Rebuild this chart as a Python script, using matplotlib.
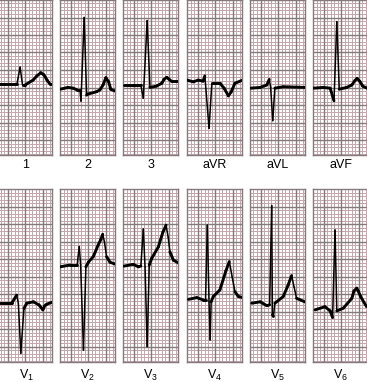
import numpy as np
import matplotlib
matplotlib.use('Agg')
from matplotlib import pyplot as plt
from matplotlib.collections import LineCollection

plt.rcParams['font.family'] = ['Liberation Sans', 'DejaVu Sans']
plt.rcParams['mathtext.fontset'] = 'custom'
plt.rcParams['mathtext.rm'] = 'Liberation Sans'
plt.rcParams['mathtext.it'] = 'Liberation Sans'

# lead names
top_labels = ['1', '2', '3', 'aVR', 'aVL', 'aVF']
bottom_labels = [r'V$_1$', r'V$_2$', r'V$_3$', r'V$_4$', r'V$_5$', r'V$_6$']

# traces, time in mm from panel left, amplitude in mm from panel bottom
lead_1_t = [0.0, 5.7, 6.6, 7.3, 8.0, 10.3, 11.4, 12.5, 13.4, 14.3, 15.1, 15.7]
lead_1_v = [20.3, 20.3, 25.1, 20.0, 20.0, 21.4, 22.6, 23.5, 22.9, 21.4, 20.3, 20.3]

lead_2_t = [0.0, 2.3, 3.7, 4.9, 5.7, 6.0, 6.9, 7.6, 7.9, 10.5, 11.4, 12.3, 13.1, 13.9, 14.5, 15.7]
lead_2_v = [18.8, 19.3, 19.1, 18.6, 18.6, 15.4, 39.3, 17.1, 17.4, 18.1, 18.6, 20.0, 22.1, 20.9, 18.8, 18.3]

lead_3_t = [0.3, 2.9, 5.1, 5.8, 6.9, 7.7, 9.6, 11.1, 11.7, 12.5, 13.1, 13.9, 15.9]
lead_3_v = [20.0, 20.0, 20.0, 16.2, 38.4, 19.3, 19.7, 20.5, 21.6, 22.2, 21.7, 21.0, 21.0]

avr_t = [0.0, 1.8, 3.2, 4.6, 5.1, 6.3, 7.1, 9.4, 10.6, 11.8, 12.6, 13.7, 15.9]
avr_v = [21.4, 20.9, 21.4, 21.1, 22.6, 7.6, 20.5, 20.5, 19.1, 16.9, 18.0, 20.5, 21.4]

avl_t = [0.2, 2.9, 4.8, 5.5, 5.9, 6.5, 7.1, 9.5, 15.9]
avl_v = [19.1, 19.3, 20.0, 21.6, 19.3, 9.8, 19.1, 19.5, 19.3]

avf_t = [0.1, 2.9, 4.9, 6.0, 6.8, 7.5, 9.6, 11.1, 12.0, 12.6, 13.4, 14.2, 15.4]
avf_v = [19.1, 19.3, 19.1, 15.5, 38.1, 18.8, 19.3, 20.0, 21.3, 21.9, 21.0, 19.7, 19.1]

v1_t = [0.9, 4.2, 5.6, 6.1, 6.8, 7.7, 8.5, 10.4, 12.0, 13.1, 13.6, 14.2, 15.8]
v1_v = [16.8, 16.8, 19.1, 16.8, 2.5, 15.3, 16.8, 17.2, 16.3, 14.9, 16.0, 16.5, 17.1]

v2_t = [0.0, 2.9, 4.9, 5.5, 5.9, 6.7, 7.4, 8.1, 9.5, 10.9, 11.7, 12.2, 12.7, 13.3, 14.3, 16.0]
v2_v = [27.2, 27.7, 27.7, 33.0, 27.7, 3.4, 27.2, 28.5, 30.1, 33.4, 35.1, 36.5, 34.3, 30.1, 28.5, 27.9]

v3_t = [0.3, 2.9, 4.4, 5.1, 5.8, 6.3, 6.9, 7.5, 8.2, 10.1, 11.4, 12.3, 12.9, 13.4, 14.4, 16.0]
v3_v = [27.4, 27.9, 27.2, 27.4, 38.0, 27.2, 4.4, 27.7, 29.6, 32.9, 37.1, 39.1, 35.7, 31.5, 29.1, 28.2]

v4_t = [0.4, 2.8, 4.7, 5.3, 5.8, 6.3, 6.6, 6.9, 7.5, 9.4, 11.1, 12.1, 12.9, 13.7, 14.7, 15.9]
v4_v = [17.9, 18.4, 17.7, 17.7, 39.1, 17.2, 6.3, 17.2, 18.7, 20.6, 26.0, 28.7, 24.3, 20.1, 18.7, 18.4]

v5_t = [0.5, 2.9, 4.8, 5.6, 6.2, 6.4, 6.7, 7.1, 9.5, 10.9, 11.9, 12.6, 13.3, 15.9]
v5_v = [16.8, 17.2, 16.1, 16.3, 44.7, 13.5, 13.0, 16.8, 18.7, 22.0, 24.7, 21.4, 18.2, 17.1]

v6_t = [0.6, 3.4, 4.9, 5.6, 6.3, 6.8, 8.7, 11.1, 11.7, 12.5, 12.9, 13.6, 15.3]
v6_v = [14.9, 15.8, 14.6, 12.7, 37.7, 14.6, 15.4, 18.2, 20.3, 21.1, 20.3, 18.7, 15.8]

top_traces = [(lead_1_t, lead_1_v), (lead_2_t, lead_2_v), (lead_3_t, lead_3_v),
              (avr_t, avr_v), (avl_t, avl_v), (avf_t, avf_v)]
bottom_traces = [(v1_t, v1_v), (v2_t, v2_v), (v3_t, v3_v),
                 (v4_t, v4_v), (v5_t, v5_v), (v6_t, v6_v)]

W, H = 367, 382
PX_MM = 3.5
lefts = [-3, 60, 123, 187, 250, 313]
panel_w = 55
rows = [(0, 155, top_traces, top_labels, 165), (189, 362, bottom_traces, bottom_labels, 375)]

MINOR = '#c4a8ae'
MAJOR = '#85797c'

fig = plt.figure(figsize=(W / 100, H / 100), dpi=100)

for top, bottom, traces, labels, label_y in rows:
    h = bottom - top
    for left, (t, v), lab in zip(lefts, traces, labels):
        ax = fig.add_axes([left / W, 1 - bottom / H, panel_w / W, h / H])
        xmax = panel_w / PX_MM
        ymax = h / PX_MM
        ax.set_xlim(0, xmax)
        ax.set_ylim(0, ymax)
        for x in np.arange(0.0, xmax, 1.0):
            if abs((x - 3.0) % 5) > 1e-6:
                ax.axvline(x, color=MINOR, lw=0.72, zorder=1)
        for k in range(1, int(ymax) + 1):
            if k % 5 != 0:
                ax.axhline(ymax - k, color=MINOR, lw=0.72, zorder=1)
        for x in np.arange(3.0, xmax, 5.0):
            ax.axvline(x, color=MAJOR, lw=1.0, zorder=2)
        for k in range(5, int(ymax) + 1, 5):
            ax.axhline(ymax - k, color=MAJOR, lw=1.0, zorder=2)

        # fast deflections are drawn thinner than the slow parts
        pts = np.column_stack([t, v])
        segs = np.stack([pts[:-1], pts[1:]], axis=1)
        slope = np.abs(np.diff(v)) / np.maximum(np.diff(t), 1e-3)
        widths = np.where(slope > 4, 1.1, 2.1)
        lc = LineCollection(segs, colors='black', linewidths=widths,
                            capstyle='round', joinstyle='round', zorder=3)
        ax.add_collection(lc)

        for s in ax.spines.values():
            s.set_color(MAJOR)
            s.set_linewidth(1.0)
        ax.set_xticks([])
        ax.set_yticks([])
        cx = (max(left, 0) + left + panel_w) / 2
        fig.text(cx / W, 1 - label_y / H, lab, ha='center', va='center', fontsize=9)

fig.savefig('out.png', dpi=100)
